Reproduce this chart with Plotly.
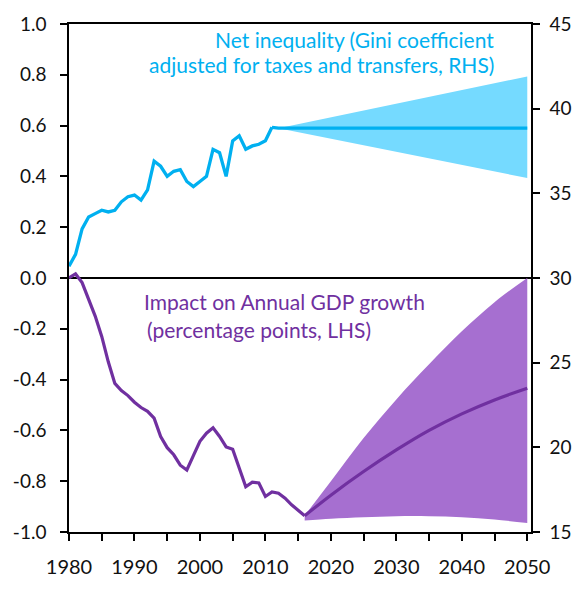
import plotly.graph_objects as go

# ---------------- data ----------------
hist_years_gdp = list(range(1980, 2017))
gdp_impact = [0.0, 0.016, -0.018, -0.08, -0.15, -0.23, -0.33, -0.415, -0.443, -0.463,
              -0.489, -0.51, -0.525, -0.552, -0.624, -0.668, -0.696, -0.737, -0.756, -0.699,
              -0.643, -0.611, -0.59, -0.624, -0.665, -0.674, -0.744, -0.822, -0.804, -0.807,
              -0.86, -0.842, -0.847, -0.867, -0.893, -0.914, -0.936]

proj_years_gdp = [2016, 2020, 2025, 2030, 2035, 2040, 2045, 2050]
gdp_central = [-0.936, -0.855, -0.762, -0.677, -0.600, -0.535, -0.480, -0.434]
gdp_upper = [-0.935, -0.80, -0.63, -0.478, -0.34, -0.21, -0.095, 0.0]
gdp_lower = [-0.955, -0.948, -0.942, -0.938, -0.938, -0.942, -0.951, -0.965]

hist_years_gini = list(range(1980, 2012))
gini = [30.7, 31.4, 32.9, 33.6, 33.8, 34.0, 33.9, 34.0, 34.5, 34.8,
        34.9, 34.6, 35.2, 36.9, 36.6, 36.0, 36.3, 36.4, 35.7, 35.4,
        35.7, 36.0, 37.6, 37.4, 36.0, 38.1, 38.4, 37.6, 37.8, 37.9,
        38.1, 38.9]
proj_years_gini = [2011, 2012, 2050]
gini_central = [38.9, 38.85, 38.85]
band_years_gini = [2012, 2050]
gini_upper = [38.85, 41.9]
gini_lower = [38.85, 35.9]

x_ticks = [1980, 1990, 2000, 2010, 2020, 2030, 2040, 2050]
left_ticks = [-1.0, -0.8, -0.6, -0.4, -0.2, 0.0, 0.2, 0.4, 0.6, 0.8, 1.0]
left_labels = ["-1.0", "-0.8", "-0.6", "-0.4", "-0.2", "0.0", "0.2", "0.4", "0.6", "0.8", "1.0"]
right_ticks = [15, 20, 25, 30, 35, 40, 45]

CYAN = "#00B0F0"
CYAN_BAND = "rgb(117,218,255)"
PURPLE = "#7030A0"
PURPLE_BAND = "rgb(166,111,208)"
FONT = "Lato"

fig = go.Figure()

# Gini uncertainty band (RHS)
fig.add_trace(go.Scatter(x=band_years_gini, y=gini_lower, yaxis="y2", mode="lines",
                         line=dict(width=0, color=CYAN_BAND), hoverinfo="skip", showlegend=False))
fig.add_trace(go.Scatter(x=band_years_gini, y=gini_upper, yaxis="y2", mode="lines",
                         line=dict(width=0, color=CYAN_BAND), fill="tonexty",
                         fillcolor=CYAN_BAND, hoverinfo="skip", showlegend=False))
# GDP impact uncertainty band (LHS)
fig.add_trace(go.Scatter(x=proj_years_gdp, y=gdp_lower, mode="lines",
                         line=dict(width=0, color=PURPLE_BAND, shape="spline"),
                         hoverinfo="skip", showlegend=False))
fig.add_trace(go.Scatter(x=proj_years_gdp, y=gdp_upper, mode="lines",
                         line=dict(width=0, color=PURPLE_BAND, shape="spline"), fill="tonexty",
                         fillcolor=PURPLE_BAND, hoverinfo="skip", showlegend=False))
# Lines
fig.add_trace(go.Scatter(x=hist_years_gini, y=gini, yaxis="y2", mode="lines",
                         line=dict(width=3.3, color=CYAN), showlegend=False))
fig.add_trace(go.Scatter(x=proj_years_gini, y=gini_central, yaxis="y2", mode="lines",
                         line=dict(width=3.3, color=CYAN), showlegend=False))
fig.add_trace(go.Scatter(x=hist_years_gdp, y=gdp_impact, mode="lines",
                         line=dict(width=3.2, color=PURPLE), showlegend=False))
fig.add_trace(go.Scatter(x=proj_years_gdp, y=gdp_central, mode="lines",
                         line=dict(width=3.2, color=PURPLE, shape="spline"), showlegend=False))

ytickfont = dict(family=FONT, size=19, color="#111111")
xtickfont = dict(family=FONT, size=20, color="#111111")

fig.update_layout(
    width=584, height=590,
    margin=dict(l=69, r=45, t=23, b=39),
    paper_bgcolor="white", plot_bgcolor="white",
    font=dict(family=FONT, size=19, color="#111111"),
    xaxis=dict(range=[1980, 2050.57], tickvals=x_ticks, ticks="outside", ticklen=7,
               tickwidth=1.5, tickcolor="black", showline=True, linecolor="black",
               linewidth=1.5, mirror=True, showgrid=False, zeroline=False,
               tickfont=xtickfont, ticklabelstandoff=9,
               minor=dict(dtick=5, tick0=1980, ticks="outside", ticklen=7, tickwidth=1.5,
                          tickcolor="black", showgrid=False)),
    yaxis=dict(range=[-1, 1], tickvals=left_ticks, ticktext=left_labels, ticks="outside",
               ticklen=7, tickwidth=1.5, tickcolor="black", showline=True, linecolor="black",
               linewidth=1.5, showgrid=False, zeroline=True, zerolinecolor="black",
               zerolinewidth=1.5, tickfont=ytickfont, ticklabelstandoff=10),
    yaxis2=dict(range=[15, 45], tickvals=right_ticks, overlaying="y", side="right",
                ticks="outside", ticklen=7, tickwidth=1.5, tickcolor="black", showline=True,
                linecolor="black", linewidth=1.5, showgrid=False, zeroline=False,
                tickfont=ytickfont, ticklabelstandoff=6),
)

ann_font_c = dict(family=FONT, size=21, color=CYAN)
ann_font_p = dict(family=FONT, size=21, color=PURPLE)
fig.add_annotation(xref="paper", yref="paper", x=0.9234, y=0.9691, xanchor="right",
                   yanchor="middle", text="Net inequality (Gini coefficient",
                   showarrow=False, font=ann_font_c)
fig.add_annotation(xref="paper", yref="paper", x=0.9234, y=0.9205, xanchor="right",
                   yanchor="middle", text="adjusted for taxes and transfers, RHS)",
                   showarrow=False, font=ann_font_c)
fig.add_annotation(xref="paper", yref="paper", x=0.1574, y=0.4532, xanchor="left",
                   yanchor="middle", text="Impact on Annual GDP growth",
                   showarrow=False, font=ann_font_p)
fig.add_annotation(xref="paper", yref="paper", x=0.1653, y=0.3996, xanchor="left",
                   yanchor="middle", text="(percentage points, LHS)",
                   showarrow=False, font=ann_font_p)

fig.write_html("out.html", config={"displayModeBar": False},
               post_script="document.body.style.margin='0';document.body.style.overflow='hidden';")
